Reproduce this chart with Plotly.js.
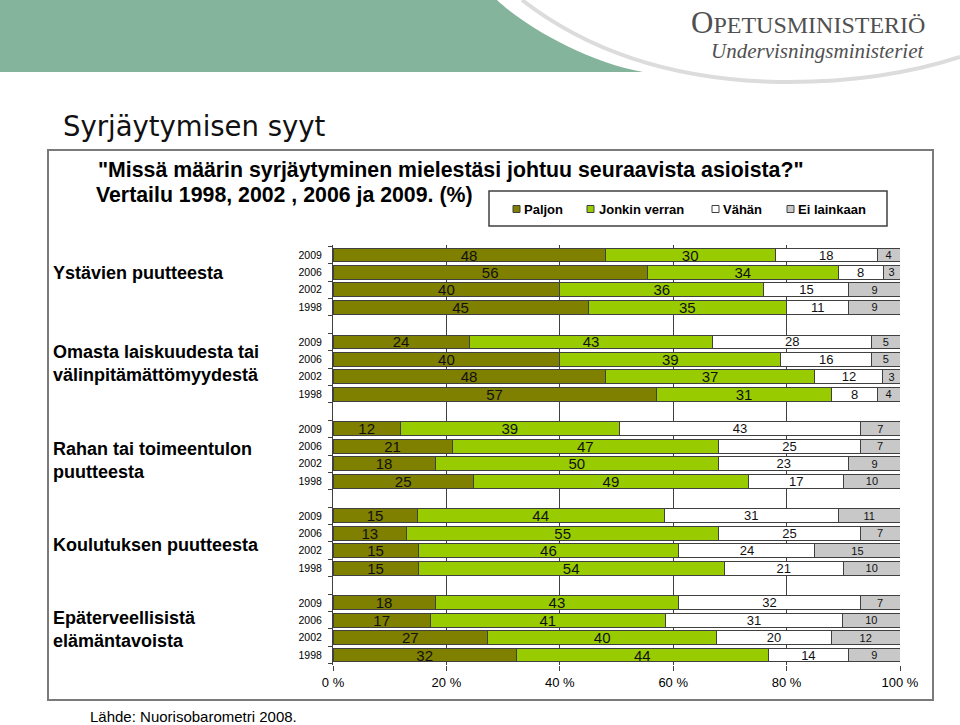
<!DOCTYPE html>
<html>
<head>
<meta charset="utf-8">
<script src="https://cdn.plot.ly/plotly-3.0.1.min.js"></script>
<style>html,body{margin:0;padding:0;background:#fff;}#chart{width:960px;height:725px;}</style>
</head>
<body>
<div id="chart"></div>
<script>
// ---- data ----
const groups = ["Ystävien puutteesta", "Omasta laiskuudesta tai<br>välinpitämättömyydestä", "Rahan tai toimeentulon<br>puutteesta", "Koulutuksen puutteesta", "Epäterveellisistä<br>elämäntavoista"];
const years = ["2009", "2006", "2002", "1998"];
const seriesNames = ["Paljon", "Jonkin verran", "Vähän", "Ei lainkaan"];
const paljon       = [[48, 56, 40, 45], [24, 40, 48, 57], [12, 21, 18, 25], [15, 13, 15, 15], [18, 17, 27, 32]];
const jonkinVerran = [[30, 34, 36, 35], [43, 39, 37, 31], [39, 47, 50, 49], [44, 55, 46, 54], [43, 41, 40, 44]];
const vahan        = [[18, 8, 15, 11], [28, 16, 12, 8], [43, 25, 23, 17], [31, 25, 24, 21], [32, 31, 20, 14]];
const eiLainkaan   = [[4, 3, 9, 9], [5, 5, 3, 4], [7, 7, 9, 10], [11, 7, 15, 10], [7, 10, 12, 9]];
const xTickVals = [0, 20, 40, 60, 80, 100];
const xTickText = ["0 %", "20 %", "40 %", "60 %", "80 %", "100 %"];
const questionLine1 = '"Missä määrin syrjäytyminen mielestäsi johtuu seuraavista asioista?"';
const questionLine2 = 'Vertailu 1998, 2002 , 2006 ja 2009. (%)';
const slideTitle = 'Syrjäytymisen syyt';
const sourceText = 'Lähde: Nuorisobarometri 2008.';

// ---- layout helpers ----
const L = 333, R = 900, T = 245, B = 665, W = 960, H = 725;
const fx = p => (p - L) / (R - L);
const fy = p => (B - p) / (B - T);

const colors = ["#7f7f00", "#99cc00", "#ffffff", "#c8c8c8"];
const labelSizes = [15, 15, 13, 11];
const allSeries = [paljon, jonkinVerran, vahan, eiLainkaan];

// slot positions: group g, year r -> g*5 + r (one empty slot between groups)
const ys = [], yLabels = [];
groups.forEach((g, gi) => years.forEach((yr, ri) => { ys.push(gi * 5 + ri); yLabels.push(yr); }));

const traces = allSeries.map((s, si) => {
  const vals = s.flat();
  return {
    type: 'bar', orientation: 'h', name: seriesNames[si],
    x: vals, y: ys, text: vals.map(String),
    textposition: 'inside', insidetextanchor: 'middle', constraintext: 'none', textangle: 0,
    textfont: {family: 'Liberation Sans, Arial, sans-serif', size: labelSizes[si], color: '#111'},
    marker: {color: colors[si], line: {color: '#404040', width: 1}},
    hoverinfo: 'skip', showlegend: false
  };
});

const shapes = [];
const annotations = [];

// header green band and swoosh
shapes.push({type: 'path', xref: 'paper', yref: 'paper', layer: 'below',
  path: `M ${fx(0)},${fy(0)} L ${fx(497)},${fy(0)} C ${fx(522)},${fy(24)} ${fx(585)},${fy(62)} ${fx(643)},${fy(72)} L ${fx(0)},${fy(72)} Z`,
  fillcolor: '#84b59c', line: {width: 0}});
shapes.push({type: 'path', xref: 'paper', yref: 'paper', layer: 'below',
  path: `M ${fx(522)},${fy(0)} C ${fx(580)},${fy(45)} ${fx(660)},${fy(80)} ${fx(780)},${fy(82)} C ${fx(860)},${fy(83)} ${fx(920)},${fy(70)} ${fx(960)},${fy(57)}`,
  line: {color: '#dcdcdc', width: 4}});

// frame box
shapes.push({type: 'rect', xref: 'paper', yref: 'paper', layer: 'below',
  x0: fx(48), x1: fx(933), y0: fy(150), y1: fy(700), line: {color: '#7a7a7a', width: 2}});

// manual legend
shapes.push({type: 'rect', xref: 'paper', yref: 'paper',
  x0: fx(489), x1: fx(887), y0: fy(191), y1: fy(226), line: {color: '#404040', width: 1.5}, fillcolor: 'rgba(0,0,0,0)'});
const legSq = [513, 587, 712, 787];
const legTx = [522, 597, 721, 796];
seriesNames.forEach((n, i) => {
  shapes.push({type: 'rect', xref: 'paper', yref: 'paper',
    x0: fx(legSq[i]), x1: fx(legSq[i] + 7), y0: fy(205.5), y1: fy(212.5),
    fillcolor: colors[i], line: {color: '#404040', width: 1}});
  annotations.push({xref: 'paper', yref: 'paper', x: fx(legTx[i]), y: fy(209), xanchor: 'left', yanchor: 'middle',
    text: '<b>' + n + '</b>', showarrow: false, font: {family: 'Liberation Sans, Arial, sans-serif', size: 13, color: '#000'}});
});

// logo text
annotations.push({xref: 'paper', yref: 'paper', x: fx(927), y: fy(22), xanchor: 'right', yanchor: 'middle', showarrow: false,
  text: 'O<span style="font-size:24px">PETUSMINISTERIÖ</span>',
  font: {family: 'Liberation Serif, Times New Roman, serif', size: 31, color: '#505050'}});
annotations.push({xref: 'paper', yref: 'paper', x: fx(926), y: fy(51), xanchor: 'right', yanchor: 'middle', showarrow: false,
  text: '<i>Undervisningsministeriet</i>',
  font: {family: 'Liberation Serif, Times New Roman, serif', size: 21, color: '#505050'}});

// slide title
annotations.push({xref: 'paper', yref: 'paper', x: fx(61), y: fy(126), xanchor: 'left', yanchor: 'middle', showarrow: false,
  text: slideTitle, font: {family: 'DejaVu Sans, Verdana, sans-serif', size: 27.5, color: '#111'}});

// question
annotations.push({xref: 'paper', yref: 'paper', x: fx(96), y: fy(170), xanchor: 'left', yanchor: 'middle', showarrow: false,
  text: '<b>' + questionLine1 + '</b>', font: {family: 'Liberation Sans Narrow, Arial Narrow, Liberation Sans, sans-serif', size: 21.3, color: '#000'}});
annotations.push({xref: 'paper', yref: 'paper', x: fx(94), y: fy(195), xanchor: 'left', yanchor: 'middle', showarrow: false,
  text: '<b>' + questionLine2 + '</b>', font: {family: 'Liberation Sans Narrow, Arial Narrow, Liberation Sans, sans-serif', size: 21.3, color: '#000'}});

// group labels
const groupLabelY = [273, 363, 460, 545, 629];
groups.forEach((g, i) => {
  annotations.push({xref: 'paper', yref: 'paper', x: fx(51), y: fy(groupLabelY[i]), xanchor: 'left', yanchor: 'middle', align: 'left',
    showarrow: false, text: '<b>' + g + '</b>', font: {family: 'Liberation Sans, Arial, sans-serif', size: 18, color: '#000'}});
});

// source
annotations.push({xref: 'paper', yref: 'paper', x: fx(88), y: fy(716), xanchor: 'left', yanchor: 'middle', showarrow: false,
  text: sourceText, font: {family: 'Liberation Sans, Arial, sans-serif', size: 15, color: '#000'}});

const layout = {
  width: W, height: H,
  margin: {l: L, r: W - R, t: T, b: H - B, pad: 0},
  paper_bgcolor: '#ffffff', plot_bgcolor: 'rgba(0,0,0,0)',
  barmode: 'stack', barnorm: 'percent', bargap: 0.2,
  xaxis: {range: [0, 100], tickvals: xTickVals, ticktext: xTickText, showgrid: true, gridcolor: '#404040', gridwidth: 1,
    zeroline: false, showline: false, ticks: 'outside', ticklen: 5, tickcolor: '#404040',
    tickfont: {family: 'Liberation Sans, Arial, sans-serif', size: 13, color: '#000'}, fixedrange: true},
  yaxis: {range: [23.575, -0.575], tickvals: ys, ticktext: yLabels, ticks: '', showgrid: false, zeroline: false,
    showline: true, linecolor: '#404040', linewidth: 1, ticklabelstandoff: 8,
    minor: {tick0: 0.5, dtick: 1, ticks: 'outside', ticklen: 4, tickcolor: '#404040', showgrid: false},
    tickfont: {family: 'Liberation Sans, Arial, sans-serif', size: 10.5, color: '#000'}, fixedrange: true},
  shapes: shapes, annotations: annotations,
  font: {family: 'Liberation Sans, Arial, sans-serif'}
};

Plotly.newPlot('chart', traces, layout, {displayModeBar: false, staticPlot: true});
</script>
</body>
</html>
